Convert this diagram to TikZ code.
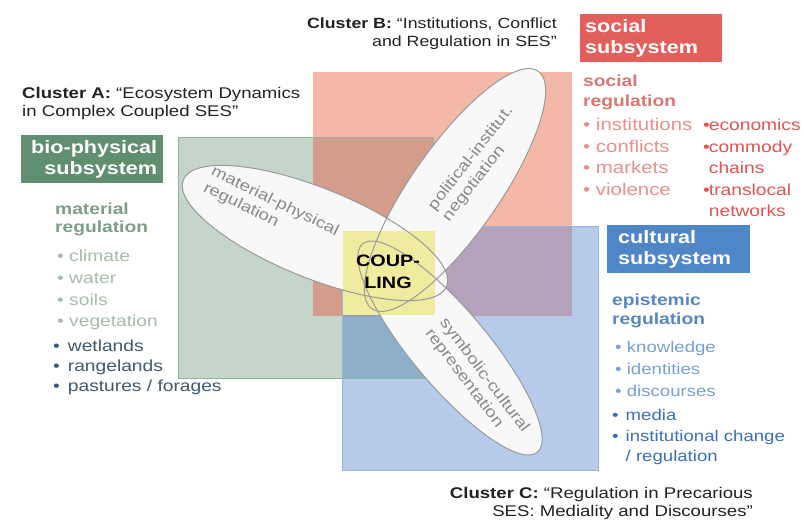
\documentclass[tikz,border=0pt]{standalone}
\usepackage{fontspec}
\setmainfont{Liberation Sans}[FakeStretch=1.2]

\definecolor{greenrect}{HTML}{C5D5CA}
\definecolor{greenline}{HTML}{8FB59C}
\definecolor{redrect}{HTML}{F3B8A8}
\definecolor{bluerect}{HTML}{B6CBEA}
\definecolor{blueline}{HTML}{98B4DC}
\definecolor{redgreen}{HTML}{D49C8A}
\definecolor{bluegreen}{HTML}{8EAFC9}
\definecolor{bluered}{HTML}{B4A2BC}
\definecolor{allthree}{HTML}{A4929E}
\definecolor{couplefill}{HTML}{EFEC9F}
\definecolor{lobefill}{HTML}{F8F8F8}
\definecolor{lobeline}{HTML}{9A9A9A}
\definecolor{lobetext}{HTML}{8A8A8A}
\definecolor{biobox}{HTML}{5F8F6F}
\definecolor{socbox}{HTML}{E35F5C}
\definecolor{culbox}{HTML}{4F86C8}
\definecolor{biohead}{HTML}{7D9E87}
\definecolor{bioitem}{HTML}{A7BCAB}
\definecolor{biodark}{HTML}{3E5A70}
\definecolor{sochead}{HTML}{D9776F}
\definecolor{socitem}{HTML}{E8918B}
\definecolor{socdark}{HTML}{E05452}
\definecolor{culhead}{HTML}{5B87C1}
\definecolor{culitem}{HTML}{79A0D6}
\definecolor{culdark}{HTML}{3B70B9}
\definecolor{clustertext}{HTML}{222222}

\newcommand{\fsz}[2]{\fontsize{#1}{#2}\selectfont}

\tikzset{
  subsys/.style={text=white, font=\fsz{18}{21}\bfseries, inner sep=0pt,
    minimum height=48pt, anchor=north west},
  headtxt/.style={font=\fsz{16}{19}\bfseries, anchor=base west, align=left, inner sep=0pt},
  itemtxt/.style={anchor=base west, align=left, inner sep=0pt},
  clustertxt/.style={text=clustertext, font=\fsz{15.5}{18}, inner sep=0pt},
  lobe/.style={fill=lobefill, draw=lobeline, line width=1pt},
  lobeedge/.style={draw=lobeline, line width=1pt},
  lobetxt/.style={text=lobetext, font=\fsz{15.5}{18}, align=left, inner sep=0pt}
}

\begin{document}
\begin{tikzpicture}[x=1pt,y=-1pt]
  \useasboundingbox (0,0) rectangle (804,529);
  \fill[white] (0,0) rectangle (804,529);

  % the three subsystem fields
  \fill[greenrect] (178,137) rectangle (433,378);   % bio-physical
  \fill[redrect] (313,72) rectangle (572,316);      % social
  \fill[bluerect] (342,226) rectangle (598,470);    % cultural
  \fill[redgreen] (313,137) rectangle (433,316);
  \fill[bluegreen] (342,316) rectangle (433,378);
  \fill[bluered] (433,226) rectangle (572,316);
  \fill[allthree] (342,226) rectangle (433,316);
  \draw[greenline] (178,137) rectangle (433,378);
  \draw[blueline] (342,226) rectangle (598,470);

  % lobes
  \fill[lobefill, rotate around={-22:(315,233)}] (315,233) ellipse (142 and 45);
  \fill[lobefill, rotate around={55:(455,190)}] (455,190) ellipse (145 and 44);
  \fill[lobefill, rotate around={-50:(450,348)}] (450,348) ellipse (136 and 38);
  \fill[couplefill] (343,231) rectangle (435,315);
  \draw[lobeedge, rotate around={-22:(315,233)}] (315,233) ellipse (142 and 45);
  \draw[lobeedge, rotate around={55:(455,190)}] (455,190) ellipse (145 and 44);
  \draw[lobeedge, rotate around={-50:(450,348)}] (450,348) ellipse (136 and 38);

  \node[lobetxt, rotate=-26] (matlobe) at (271,210) {material-physical\\regulation};
  \node[lobetxt, rotate=52] (pollobe) at (478,164) {political-institut.\\negotiation};
  \node[lobetxt, rotate=-53] (symlobe) at (477,381) {symbolic-cultural\\representation};
  \node[font=\fsz{16.5}{22}\bfseries, align=center, inner sep=0pt] (coupling) at (388,272) {COUP-\\LING};

  % cluster titles (base = last line)
  \node[clustertxt, anchor=base west, align=left] (clusterA) at (22,117)
    {\textbf{Cluster A:} “Ecosystem Dynamics\\in Complex Coupled SES”};
  \node[clustertxt, font=\fsz{14.8}{18}, anchor=base east, align=right] (clusterB) at (557,47)
    {\textbf{Cluster B:} “Institutions, Conflict\\and Regulation in SES”};
  \node[clustertxt, anchor=base east, align=right] (clusterC) at (753,516)
    {\textbf{Cluster C:} “Regulation in Precarious\\SES: Mediality and Discourses”};

  % bio-physical
  \node[subsys, fill=biobox, minimum width=142pt, text width=130pt, align=right] (bio) at (21,135)
    {bio-physical\\subsystem};
  \node[headtxt, text=biohead, font=\fsz{16}{18}\bfseries] (biohd) at (55,233) {material\\regulation};
  \node[itemtxt, text=bioitem, font=\fsz{16}{21.7}] (bioitems) at (57,327)
    {• climate\\• water\\• soils\\• vegetation};
  \node[itemtxt, text=biodark, font=\fsz{16}{20}] (biomore) at (53,392)
    {•\hspace{8pt}wetlands\\•\hspace{8pt}rangelands\\•\hspace{8pt}pastures / forages};

  % social
  \node[subsys, fill=socbox, minimum width=142pt, text width=132pt, align=left] (soc) at (580,14)
    {social\\subsystem};
  \node[headtxt, text=sochead, font=\fsz{16}{20}\bfseries] (sochd) at (583,107) {social\\regulation};
  \node[itemtxt, text=socitem, font=\fsz{17}{21.5}] (socitems) at (583,195.5)
    {• institutions\\• conflicts\\• markets\\• violence};
  \node[itemtxt, text=socdark, font=\fsz{16}{21.5}] (socmore) at (703,217)
    {•\hspace{-1pt}economics\\•\hspace{-1pt}commody\\\phantom{•}\hspace{-1pt}chains\\•\hspace{-1pt}translocal\\\phantom{•}\hspace{-1pt}networks};

  % cultural
  \node[subsys, fill=culbox, minimum width=143pt, text width=121pt, align=left] (cul) at (607,225)
    {cultural\\subsystem};
  \node[headtxt, text=culhead] (culhd) at (612,325) {epistemic\\regulation};
  \node[itemtxt, text=culitem, font=\fsz{15.5}{22}] (culitems) at (615,397)
    {• knowledge\\• identities\\• discourses};
  \node[itemtxt, text=culdark, font=\fsz{15.5}{21}] (culmore) at (612,462)
    {•\hspace{7pt}media\\•\hspace{7pt}institutional change\\\phantom{•}\hspace{7pt}/ regulation};
\end{tikzpicture}
\end{document}
